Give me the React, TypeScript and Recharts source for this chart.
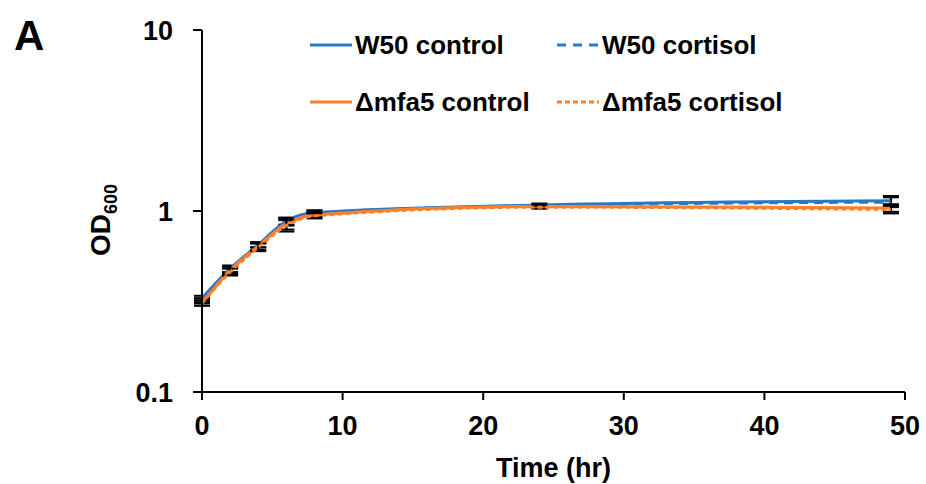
import React from 'react';
import { LineChart, Line, XAxis, YAxis, ErrorBar, Label } from 'recharts';

const times = [0, 2, 4, 6, 8, 24, 49];
const w50Control = [0.33, 0.48, 0.65, 0.88, 0.98, 1.08, 1.14];
const w50Cortisol = [0.32, 0.47, 0.65, 0.87, 0.97, 1.07, 1.12];
const mfa5Control = [0.31, 0.47, 0.64, 0.85, 0.95, 1.06, 1.04];
const mfa5Cortisol = [0.31, 0.46, 0.63, 0.83, 0.94, 1.05, 1.02];
const errW50 = [0.01, 0.02, 0.02, 0.04, 0.03, 0.02, 0.07];
const errMfa5 = [0.01, 0.02, 0.03, 0.06, 0.03, 0.02, 0.05];
const xTicks = [0, 10, 20, 30, 40, 50];
const yTicks = [0.1, 1, 10];

const FONT = '"Liberation Sans", Arial, sans-serif';
const BLUE = '#2878C8';
const ORANGE = '#FF7F27';

const series = [
  { key: 'w50Control', name: 'W50 control', color: BLUE, dash: undefined, legendDash: undefined },
  { key: 'w50Cortisol', name: 'W50 cortisol', color: BLUE, dash: '9 6', legendDash: '9 7' },
  { key: 'mfa5Control', name: 'Δmfa5 control', color: ORANGE, dash: undefined, legendDash: undefined },
  { key: 'mfa5Cortisol', name: 'Δmfa5 cortisol', color: ORANGE, dash: '5 3', legendDash: '5 3' },
];

const data = times.map((t, i) => ({
  time: t,
  w50Control: w50Control[i],
  w50Cortisol: w50Cortisol[i],
  mfa5Control: mfa5Control[i],
  mfa5Cortisol: mfa5Cortisol[i],
  w50ControlErr: errW50[i],
  w50CortisolErr: errW50[i],
  mfa5ControlErr: errMfa5[i],
  mfa5CortisolErr: errMfa5[i],
}));

// legend slots: two columns, two rows
const legendPos = [
  { x: 310, y: 45 },
  { x: 557, y: 45 },
  { x: 310, y: 102 },
  { x: 557, y: 102 },
];

function OdLabel(props: any) {
  const cx = 110;
  const cy = 220;
  return (
    <text
      transform={`rotate(-90, ${cx}, ${cy})`}
      x={cx}
      y={cy}
      textAnchor="middle"
      fontFamily={FONT}
      fontWeight="bold"
      fontSize={28}
      fill="#000"
    >
      OD<tspan fontSize={18} dy={7}>600</tspan>
    </text>
  );
}

export default function App() {
  return (
    <div style={{ position: 'absolute', left: 0, top: 0, width: 926, height: 484, background: '#fff', fontFamily: FONT }}>
      <LineChart width={926} height={484} data={data} margin={{ top: 30, right: 21, bottom: 0, left: 0 }}>
        <XAxis
          dataKey="time"
          type="number"
          domain={[0, 50]}
          ticks={xTicks}
          interval={0}
          axisLine={{ stroke: '#000', strokeWidth: 2 }}
          tickLine={{ stroke: '#000', strokeWidth: 2 }}
          tickSize={8}
          tickMargin={16}
          height={92}
          tick={{ fill: '#000', fontSize: 27, fontWeight: 'bold', fontFamily: FONT }}
        >
          <Label
            value="Time (hr)"
            position="insideBottom"
            offset={7}
            style={{ fill: '#000', fontSize: 27, fontWeight: 'bold', fontFamily: FONT }}
          />
        </XAxis>
        <YAxis
          scale="log"
          domain={[0.1, 10]}
          ticks={yTicks}
          interval={0}
          allowDataOverflow
          width={202}
          axisLine={{ stroke: '#000', strokeWidth: 2 }}
          tickLine={{ stroke: '#000', strokeWidth: 2 }}
          tickSize={9}
          tickMargin={20}
          tick={{ fill: '#000', fontSize: 27, fontWeight: 'bold', fontFamily: FONT }}
        >
          <Label content={<OdLabel />} />
        </YAxis>
        {series.map(s => (
          <Line
            key={s.key}
            type="monotone"
            dataKey={s.key}
            name={s.name}
            stroke={s.color}
            strokeWidth={3}
            strokeDasharray={s.dash}
            dot={false}
            activeDot={false}
            isAnimationActive={false}
          >
            <ErrorBar dataKey={`${s.key}Err`} direction="y" width={8} stroke="#000" strokeWidth={2} />
          </Line>
        ))}
      </LineChart>

      <div style={{ position: 'absolute', left: 14, top: 12, fontSize: 42, fontWeight: 'bold', color: '#000' }}>A</div>

      {series.map((s, i) => (
        <div key={s.key} style={{ position: 'absolute', left: legendPos[i].x, top: legendPos[i].y - 17, height: 34, display: 'flex', alignItems: 'center' }}>
          <svg width={42} height={6} style={{ display: 'block' }}>
            <line x1={0} y1={3} x2={42} y2={3} stroke={s.color} strokeWidth={3} strokeDasharray={s.legendDash} />
          </svg>
          <span style={{ marginLeft: 3, fontSize: 26, fontWeight: 'bold', color: '#000', whiteSpace: 'nowrap' }}>{s.name}</span>
        </div>
      ))}
    </div>
  );
}
